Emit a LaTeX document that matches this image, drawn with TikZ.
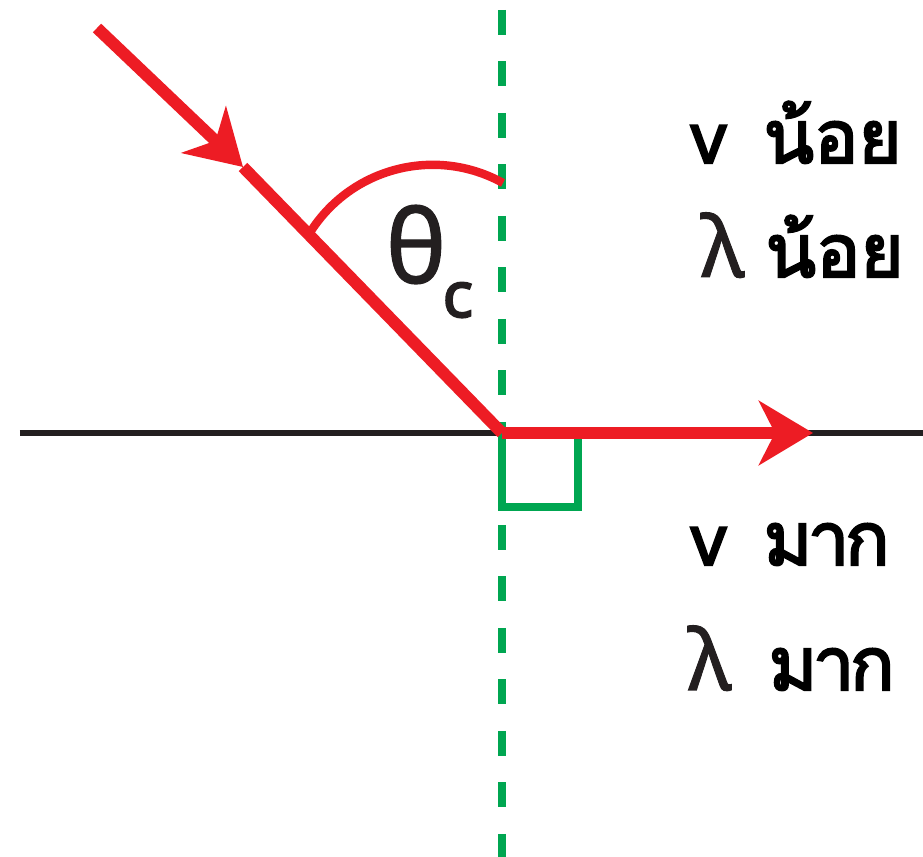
\documentclass[tikz,border=0pt]{standalone}
\usepackage{fontspec}
\setmainfont{Noto Sans}
\newfontfamily\thaibold[Script=Thai, FakeBold=3]{Loma}
\newfontfamily\thaitight[Script=Thai, FakeBold=3, LetterSpace=-6]{Loma}
\newfontfamily\latinbold[FakeBold=3]{Noto Sans}
\newfontfamily\greekmid[FakeBold=1.2]{Noto Sans}
\usepackage{tikz}
\usetikzlibrary{arrows.meta}
\definecolor{rayred}{HTML}{ED1C24}
\definecolor{normgreen}{HTML}{00A651}
\definecolor{inkgray}{HTML}{231F20}

\begin{document}
\begin{tikzpicture}[
    ray/.style={rayred, line width=3.4pt},
    raytip/.style={-{Stealth[length=5.4mm, width=6.4mm, inset=1.6mm]}},
    label/.style={inner sep=0pt, anchor=base west},
    word/.style={label, font=\thaibold\fontsize{21pt}{24pt}\selectfont},
    tightword/.style={label, font=\thaitight\fontsize{21pt}{24pt}\selectfont}
]
    \useasboundingbox (0,0) rectangle (9.23,8.57);

    % 1. Points of the picture
    \coordinate (O) at (5.02,4.24);
    \coordinate (S) at (0.97,8.29);
    \coordinate (M) at (2.43,6.90);
    \coordinate (E) at (8.13,4.24);
    \coordinate (L) at (0.20,4.24);
    \coordinate (R) at (9.23,4.24);
    \coordinate (T) at (5.02,8.47);
    \coordinate (B) at (5.02,0);

    % 2. Boundary and normal
    \draw[inkgray, line width=1.9pt] (L) -- (R);
    \draw[normgreen, line width=2.2pt, dash pattern=on 0.25cm off 0.265cm] (T) -- (B);
    \draw[normgreen, line width=2pt] (O) rectangle (5.78,3.50);

    % 3. Incident and refracted rays
    \draw[ray] (M) -- (O);
    \draw[ray, raytip] (S) -- (M);
    \draw[ray, raytip] (O) -- (E);

    % 4. Critical angle
    \draw[rayred, line width=2.4pt] (5.03,6.74) arc[start angle=61, end angle=148, radius=1.45];
    \node[label, inkgray, font=\greekmid\fontsize{29pt}{32pt}\selectfont] (theta) at (3.85,5.74) {θ};
    \node[label, inkgray, font=\latinbold\fontsize{18pt}{20pt}\selectfont] (sub) at (4.42,5.40) {c};

    % 5. Speed and wavelength labels
    \node[label, font=\latinbold\fontsize{20pt}{24pt}\selectfont] (v1) at (6.90,6.94) {v};
    \node[word] (w1) at (7.63,6.94) {น้อย};
    \node[label, inkgray, font=\greekmid\fontsize{24pt}{28pt}\selectfont] (l1) at (7.00,5.80) {λ};
    \node[word] (w2) at (7.65,5.80) {น้อย};
    \node[label, font=\latinbold\fontsize{20pt}{24pt}\selectfont] (v2) at (6.90,2.92) {v};
    \node[tightword] (w3) at (7.63,2.92) {มาก};
    \node[label, inkgray, font=\greekmid\fontsize{24pt}{28pt}\selectfont] (l2) at (6.87,1.67) {λ};
    \node[tightword] (w4) at (7.68,1.67) {มาก};
\end{tikzpicture}
\end{document}
